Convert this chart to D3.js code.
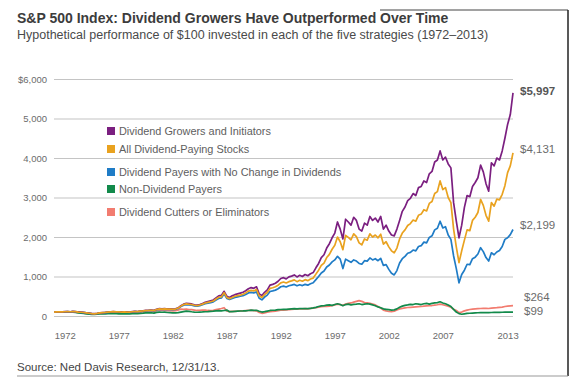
<!DOCTYPE html>
<html>
<head>
<meta charset="utf-8">
<script src="https://cdn.jsdelivr.net/npm/d3@7"></script>
<style>
  body { margin: 0; background: #fff; }
  text { font-family: "Liberation Sans", Arial, sans-serif; }
</style>
</head>
<body>
<svg id="chart" width="580" height="388"></svg>
<script>

// quarterly observations, 1971.00 .. 2013.50
let quarters = d3.range(0, 171).map(i => 1971 + i * 0.25);

let growers = [
  100, 104, 108, 103,   110, 114, 108, 116,   112, 102, 96, 90,   82, 72, 62, 58,
  68, 80, 86, 92,   100, 106, 112, 108,   106, 102, 108, 104,   100, 112, 118, 114,
  126, 132, 142, 146,   152, 142, 172, 188,   182, 190, 178, 184,   176, 182, 205, 262,
  300, 320, 312, 305,   285, 275, 292, 315,   345, 365, 385, 405,   460, 510, 520, 625,
  500, 470, 510, 540,   560, 580, 600, 640,   690, 720, 700, 740,   560, 520, 600, 660,
  780, 800, 830, 880,   950, 970, 940, 990,   1010, 1040, 990, 1030,   1000, 1050, 1020, 1070,
  1100, 1220, 1330, 1480,   1550, 1720, 1830, 1980,   2100, 2380, 2200, 1950,   2450, 2380, 2300, 2500,
  2420, 2200, 2150, 2350,   2300, 2520, 2420, 2480,   2380, 2520, 2200, 2300,   2150, 2050, 2030, 2200,
  2420, 2650, 2760, 2920,   2980, 3100, 3050, 3250,   3280, 3420, 3380, 3600,   3660, 3900, 3950, 4180,
  3950, 4020, 3850, 3750,   2870, 2400, 1980, 2300,   2750, 3050, 3020, 3280,   3380, 3500, 3820, 3650,
  3350, 3160, 3880, 3800,   4000, 3950, 4180, 4500,   4850, 5100, 5650
];

let allPayers = [
  100, 104, 107, 103,   108, 112, 107, 113,   110, 100, 95, 88,   80, 70, 60, 56,
  66, 78, 84, 90,   98, 104, 110, 106,   104, 100, 104, 100,   98, 108, 114, 110,
  122, 128, 136, 140,   146, 138, 165, 180,   175, 182, 172, 176,   170, 176, 198, 250,
  290, 305, 298, 290,   272, 262, 278, 300,   328, 345, 362, 380,   430, 475, 485, 590,
  470, 440, 470, 500,   515, 530, 550, 585,   630, 650, 635, 670,   510, 470, 540, 595,
  700, 715, 740, 780,   840, 860, 835, 870,   890, 915, 870, 905,   880, 920, 895, 935,
  960, 1060, 1160, 1280,   1340, 1480, 1560, 1690,   1790, 2000, 1880, 1680,   2040, 1990, 1930, 2080,
  2010, 1850, 1800, 1950,   1920, 2080, 2000, 2050,   1980, 2070, 1820, 1880,   1750, 1650, 1600, 1720,
  1950, 2100, 2180, 2290,   2340, 2430, 2400, 2550,   2580, 2690, 2660, 2850,   2900, 3100, 3150, 3420,
  3200, 3250, 3000, 2870,   2200, 1750, 1350, 1650,   1920, 2180, 2160, 2420,   2500, 2620, 2950, 2800,
  2550, 2400, 2870, 2780,   2960, 2940, 3080, 3300,   3630, 3800, 4130
];

let noChange = [
  100, 103, 106, 102,   106, 110, 105, 110,   106, 97, 92, 86,   78, 68, 58, 55,
  64, 75, 81, 87,   94, 100, 106, 102,   100, 96, 100, 96,   94, 104, 110, 106,
  118, 122, 130, 134,   140, 132, 158, 172,   168, 174, 165, 168,   162, 168, 190, 238,
  275, 290, 282, 275,   258, 250, 264, 285,   310, 325, 340, 358,   405, 445, 455, 560,
  445, 420, 445, 470,   485, 500, 515, 545,   585, 600, 585, 610,   450, 410, 480, 530,
  620, 635, 655, 690,   740, 755, 735, 765,   780, 800, 765, 790,   770, 800, 780, 815,
  840, 920, 1000, 1090,   1140, 1240, 1290, 1370,   1420, 1510, 1440, 1200,   1440, 1400, 1360, 1420,
  1390, 1330, 1310, 1400,   1390, 1470, 1420, 1450,   1400, 1460, 1280, 1300,   1180, 1080, 1040, 1150,
  1340, 1450, 1510, 1590,   1610, 1670, 1650, 1760,   1780, 1870, 1850, 1990,   2030, 2180, 2220, 2400,
  2230, 2260, 2050, 1940,   1520, 1200, 840, 1050,   1160, 1310, 1300, 1450,   1490, 1570, 1730, 1630,
  1480, 1390, 1600, 1550,   1620, 1660, 1760, 1940,   1980, 2060, 2190
];

let nonPayers = [
  100, 102, 104, 100,   104, 102, 96, 95,   88, 76, 70, 64,   55, 48, 40, 38,
  44, 52, 55, 54,   60, 62, 60, 58,   56, 54, 58, 56,   54, 62, 68, 62,
  68, 72, 78, 80,   82, 72, 90, 100,   95, 98, 88, 86,   80, 78, 85, 100,
  112, 125, 118, 108,   100, 95, 98, 102,   108, 112, 118, 122,   128, 135, 130, 140,
  150, 110, 112, 118,   122, 126, 128, 132,   140, 148, 142, 146,   120, 100, 110, 125,
  140, 145, 150, 160,   165, 170, 168, 175,   180, 185, 182, 188,   185, 190, 185, 195,
  205, 220, 240, 255,   260, 275, 280, 270,   290, 310, 290, 260,   290, 300, 280, 295,
  300, 310, 290, 300,   310, 300, 280, 260,   230, 210, 180, 170,   160, 150, 155, 180,
  220, 250, 270, 280,   295, 290, 310, 300,   290, 310, 320, 300,   320, 330, 340, 360,
  330, 310, 280, 240,   170, 100, 60, 45,   55, 65, 70, 75,   80, 82, 85, 84,
  86, 84, 88, 90,   92, 94, 95, 96,   97, 98, 99
];

let cutters = [
  100, 102, 104, 100,   104, 104, 100, 100,   95, 86, 80, 74,   66, 58, 50, 46,
  54, 64, 68, 70,   78, 82, 84, 80,   78, 76, 80, 78,   76, 86, 92, 88,
  98, 104, 112, 116,   122, 112, 135, 148,   142, 148, 138, 140,   132, 136, 150, 175,
  170, 175, 165, 160,   150, 140, 145, 150,   150, 140, 135, 145,   160, 175, 190, 210,
  130, 110, 115, 118,   122, 128, 130, 135,   140, 145, 135, 130,   90, 68, 80, 95,
  110, 115, 125, 135,   145, 150, 155, 162,   170, 175, 172, 180,   178, 185, 180, 190,
  200, 210, 222, 236,   240, 245, 250, 260,   280, 300, 290, 270,   300, 320, 330, 350,
  370, 390, 370, 340,   330, 320, 300, 280,   240, 200, 150, 130,   115, 110, 120, 150,
  180, 195, 205, 215,   220, 225, 230, 235,   240, 250, 255, 260,   265, 275, 285, 300,
  285, 270, 250, 220,   170, 140, 85, 100,   130, 150, 165, 175,   180, 185, 190, 195,
  195, 190, 200, 205,   210, 218, 226, 240,   250, 258, 264
];

let seriesNames = [
  "Dividend Growers and Initiators",
  "All Dividend-Paying Stocks",
  "Dividend Payers with No Change in Dividends",
  "Non-Dividend Payers",
  "Dividend Cutters or Eliminators"
];
let seriesValues = [growers, allPayers, noChange, nonPayers, cutters];
let seriesColors = ["#7b1f80", "#e9a21f", "#1f7cc6", "#128a4b", "#f27c70"];
let endLabels = ["$5,997", "$4,131", "$2,199", "$99", "$264"];

let yTicks = [0, 1000, 2000, 3000, 4000, 5000, 6000];
let xTicks = [1972, 1977, 1982, 1987, 1992, 1997, 2002, 2007, 2013];

let svg = d3.select("#chart");

let x = d3.scaleLinear().domain([1971, 2013.5]).range([54, 513]);
let y = d3.scaleLinear().domain([0, 6000]).range([316, 79]);

// frame
svg.append("line").attr("x1", 380).attr("x2", 568).attr("y1", 10).attr("y2", 10)
  .attr("stroke", "#444").attr("stroke-width", 1);
svg.append("line").attr("x1", 568).attr("x2", 568).attr("y1", 10).attr("y2", 376)
  .attr("stroke", "#222").attr("stroke-width", 1.5);
svg.append("line").attr("x1", 17).attr("x2", 568).attr("y1", 376).attr("y2", 376)
  .attr("stroke", "#999").attr("stroke-width", 1.2);

// titles
svg.append("text").attr("x", 17).attr("y", 23)
  .attr("font-size", 14).attr("font-weight", "bold").attr("fill", "#3c3c3c")
  .text("S&P 500 Index: Dividend Growers Have Outperformed Over Time");
svg.append("text").attr("x", 17).attr("y", 39)
  .attr("font-size", 12.5).attr("fill", "#4a4a4a")
  .text("Hypothetical performance of $100 invested in each of the five strategies (1972\u20132013)");

// grid
let yAxis = d3.axisLeft(y).tickValues(yTicks).tickSize(-(513 - 54))
  .tickFormat(d => d === 6000 ? "$6,000" : d3.format(",")(d));
let gy = svg.append("g").attr("transform", "translate(54,0)").call(yAxis);
gy.select(".domain").remove();
gy.selectAll(".tick line").attr("stroke", "#c4c4c4").attr("stroke-width", 1.2);
gy.selectAll(".tick text").attr("x", -7).attr("font-size", 9.5).attr("fill", "#6b6b6b")
  .attr("font-family", "Liberation Sans, Arial, sans-serif");

let xAxis = d3.axisBottom(x).tickValues(xTicks).tickSize(0).tickFormat(d3.format("d"));
let gx = svg.append("g").attr("transform", "translate(0,329)").call(xAxis);
gx.select(".domain").remove();
gx.selectAll(".tick text").attr("font-size", 9.5).attr("fill", "#6b6b6b")
  .attr("font-family", "Liberation Sans, Arial, sans-serif");

// lines, cutters first so the leading series sit on top
let line = d3.line().x((d, i) => x(quarters[i])).y(d => y(d));
let drawOrder = [4, 3, 2, 0, 1];
drawOrder.forEach(k => {
  svg.append("path").datum(seriesValues[k])
    .attr("d", line)
    .attr("fill", "none")
    .attr("stroke", seriesColors[k])
    .attr("stroke-width", 1.7)
    .attr("stroke-linejoin", "round");
});

// end labels
let labelNudge = [2, 0, 0, 3, -5];
let labelX = [520, 520, 520, 524, 524];
seriesValues.forEach((vals, k) => {
  svg.append("text")
    .attr("x", labelX[k])
    .attr("y", y(vals[vals.length - 1]) + labelNudge[k])
    .attr("font-size", 11.5)
    .attr("font-weight", k === 0 ? "bold" : "normal")
    .attr("fill", k === 0 ? "#555" : "#6b6b6b")
    .text(endLabels[k]);
});

// legend
let legendY = [131, 149, 172, 189, 212];
let legend = svg.append("g");
seriesNames.forEach((name, k) => {
  legend.append("rect").attr("x", 107).attr("y", legendY[k] - 4).attr("width", 8).attr("height", 8)
    .attr("fill", seriesColors[k]);
  legend.append("text").attr("x", 119).attr("y", legendY[k] + 4)
    .attr("font-size", 10.9).attr("fill", "#5e5e5e").text(name);
});

// source
svg.append("text").attr("x", 17).attr("y", 371)
  .attr("font-size", 11.5).attr("fill", "#444")
  .text("Source: Ned Davis Research, 12/31/13.");
</script>
</body>
</html>
